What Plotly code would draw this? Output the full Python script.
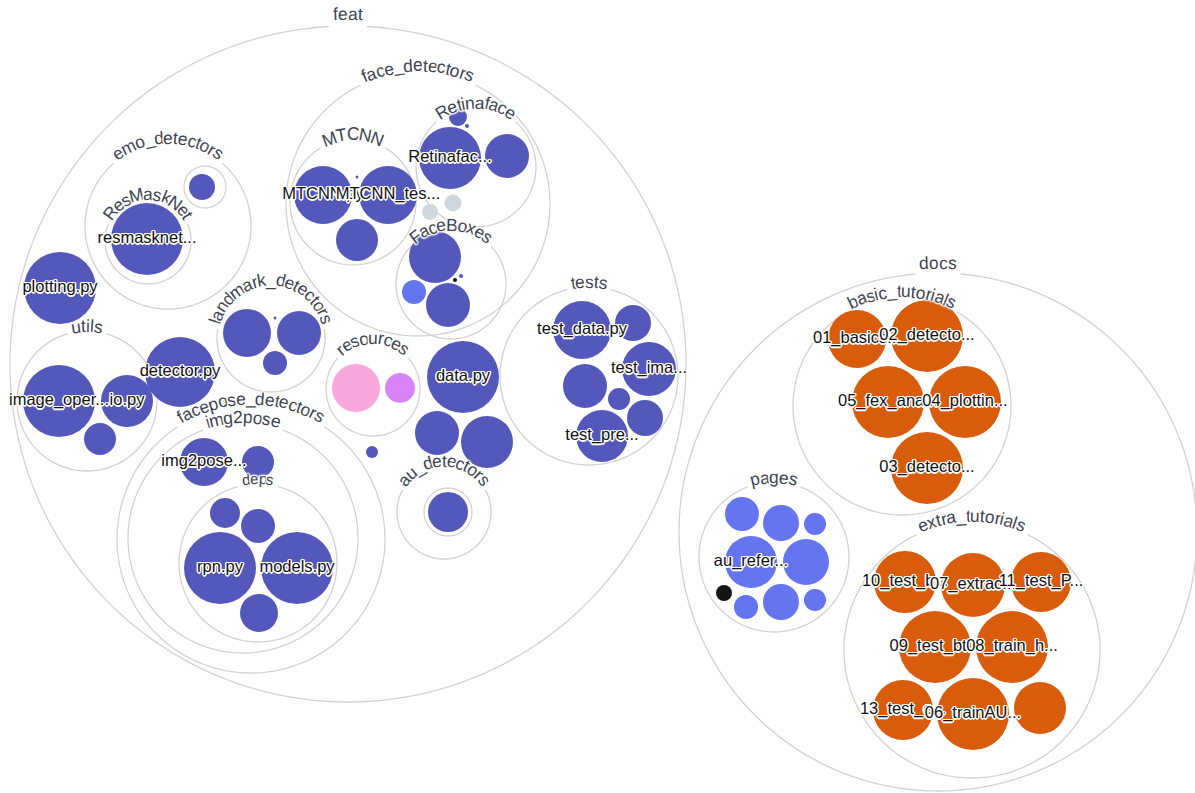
import math
import plotly.graph_objects as go

# ---------------- data ----------------
# folders: name, centre x, centre y, radius (layout units = px of the reference)
FOLDER_NAMES = ["feat", "face_detectors", "MTCNN", "Retinaface", "FaceBoxes",
                "emo_detectors", "ResMaskNet", "", "utils", "landmark_detectors",
                "resources", "facepose_detectors", "img2pose", "deps",
                "au_detectors", "", "tests",
                "docs", "basic_tutorials", "pages", "extra_tutorials"]
FOLDER_X = [348, 418, 353, 476, 451, 168, 148, 205, 87, 271, 373, 251, 243, 258,
            444, 448, 589, 938, 902, 774, 972]
FOLDER_Y = [364, 204, 202, 167, 284, 226, 241, 187, 401, 338, 389, 539, 538, 563,
            512, 512, 376, 532, 406, 557, 650]
FOLDER_R = [338, 132, 63, 60, 55, 83, 43, 21, 70, 54, 47, 134, 115, 79,
            47, 24, 89, 259, 109, 75, 128]

# files: shown label, centre x, centre y, radius, file type
FILE_LABELS = [
    "plotting.py", "detector.py", "data.py", "", "", "",
    "MTCNN.py", "MTCNN_tes...", "", "",
    "Retinafac...", "", "", "",
    "", "", "", "", "",
    "", "",
    "resmasknet...", "",
    "image_oper...", "io.py", "",
    "", "", "", "",
    "", "",
    "img2pose...", "",
    "rpn.py", "models.py", "", "", "",
    "",
    "test_data.py", "", "test_ima...", "", "", "", "test_pre...",
    "01_basics...", "02_detecto...", "05_fex_ana...", "04_plottin...", "03_detecto...",
    "", "", "", "au_refer...", "", "", "", "", "",
    "10_test_b...", "07_extrac...", "11_test_P...", "09_test_bt...", "08_train_h...",
    "13_test_e...", "06_trainAU...", "",
]
FILE_X = [60, 180, 463, 437, 487, 372,
          323, 388, 357, 357,
          450, 507, 458, 467,
          435, 448, 414, 455, 461,
          453, 430,
          147, 202,
          59, 127, 100,
          247, 299, 275, 275,
          356, 400,
          204, 258,
          220, 297, 225, 258, 259,
          448,
          582, 633, 649, 585, 619, 645, 602,
          857, 927, 888, 965, 927,
          742, 781, 815, 751, 806, 724, 746, 781, 815,
          905, 973, 1041, 935, 1012, 903, 973, 1040]
FILE_Y = [288, 372, 377, 433, 442, 452,
          195, 195, 240, 177,
          158, 156, 117, 126,
          257, 305, 292, 280, 276,
          203, 212,
          239, 187,
          401, 401, 439,
          333, 333, 363, 318,
          388, 388,
          462, 462,
          568, 568, 513, 526, 613,
          512,
          330, 323, 369, 386, 399, 418, 436,
          339, 336, 402, 402, 468,
          514, 523, 524, 562, 562, 593, 607, 602, 600,
          582, 585, 582, 647, 647, 710, 714, 708]
FILE_R = [36, 35, 36, 22, 26, 6,
          29, 29, 21, 1.5,
          31, 22, 9, 2,
          26, 22, 12, 2, 2,
          8.5, 8,
          36, 13,
          36, 26, 16,
          24, 22, 12, 1.5,
          24, 15,
          24, 16,
          36, 36, 15, 17, 19,
          20,
          29, 18, 27, 22, 11, 18, 26,
          29, 36, 36, 36, 36,
          17, 18, 11, 26, 23, 8, 12, 18, 11,
          31, 32, 30, 36, 36, 30, 36, 26]
FILE_TYPES = ["py", "py", "py", "py", "py", "py",
              "py", "py", "py", "py",
              "py", "py", "py", "py",
              "py", "py", "html", "other", "py",
              "gray", "gray",
              "py", "py",
              "py", "py", "py",
              "py", "py", "py", "py",
              "png", "svg",
              "py", "py",
              "py", "py", "py", "py", "py",
              "py",
              "py", "py", "py", "py", "py", "py", "py",
              "ipynb", "ipynb", "ipynb", "ipynb", "ipynb",
              "html", "html", "html", "html", "html", "other", "html", "html", "html",
              "ipynb", "ipynb", "ipynb", "ipynb", "ipynb", "ipynb", "ipynb", "ipynb"]

# ---------------- styles ----------------
TYPE_COLORS = {"py": "#5558bb", "html": "#6574ef", "ipynb": "#d95b0c",
               "png": "#f9a8db", "svg": "#d985f9", "gray": "#cfd7df",
               "other": "#141414"}
FONT = "Liberation Sans, Arial, Helvetica, sans-serif"
OUTLINE = "#d6d0d0"
FOLDER_TEXT = "#3a4353"
W, H = 1195, 793

# Helvetica/Arial advance widths (per 1000 em) for arc-set folder labels
ADV = {'a': 556, 'b': 556, 'c': 500, 'd': 556, 'e': 556, 'f': 278, 'g': 556,
       'h': 556, 'i': 222, 'j': 222, 'k': 500, 'l': 222, 'm': 833, 'n': 556,
       'o': 556, 'p': 556, 'q': 556, 'r': 333, 's': 500, 't': 278, 'u': 556,
       'v': 500, 'w': 722, 'x': 500, 'y': 500, 'z': 500, '_': 556, '2': 556,
       'A': 667, 'B': 667, 'C': 722, 'F': 611, 'M': 833, 'N': 722, 'R': 722,
       'T': 611}


def label_size(name):
    return 15 if name == "deps" else 17.5


def label_radius(r):
    return r + 3 + 0.027 * r


shapes = []
annotations = []
halo_big = ("0 0 2px #fff, 0 0 2px #fff, 0 0 3px #fff, 0 0 3px #fff, "
            "1px 1px 1px #fff, -1px -1px 1px #fff, 1px -1px 1px #fff, -1px 1px 1px #fff")

for name, cx, cy, r in zip(FOLDER_NAMES, FOLDER_X, FOLDER_Y, FOLDER_R):
    size = label_size(name)
    R = label_radius(r)
    adv = [ADV.get(c, 556) / 1000.0 * size for c in name]
    total = sum(adv)
    # outline of the folder, with a gap where its label sits
    gap = (total / 2.0 + 5.0) / R if name else 0.0
    n = max(60, int(r * 1.2))
    pts = []
    for k in range(n + 1):
        th = gap + (2 * math.pi - 2 * gap) * k / n
        pts.append((cx + r * math.sin(th), cy - r * math.cos(th)))
    path = "M " + " L ".join(f"{x:.2f},{y:.2f}" for x, y in pts)
    if not name:
        path += " Z"
    shapes.append(dict(type="path", xref="x", yref="y", layer="below", path=path,
                       line=dict(color=OUTLINE, width=1.3)))
    # label characters set along the arc
    s = -total / 2.0
    for ch, a in zip(name, adv):
        th = (s + a / 2.0) / R
        s += a
        annotations.append(dict(
            x=cx + R * math.sin(th), y=cy - R * math.cos(th),
            xref="x", yref="y", text=ch, showarrow=False,
            xanchor="center", yanchor="middle", textangle=math.degrees(th),
            font=dict(family=FONT, size=size, color=FOLDER_TEXT, shadow=halo_big),
            borderpad=0))

for cx, cy, r, t in zip(FILE_X, FILE_Y, FILE_R, FILE_TYPES):
    shapes.append(dict(type="circle", xref="x", yref="y", layer="below",
                       x0=cx - r, x1=cx + r, y0=cy - r, y1=cy + r,
                       line=dict(width=0), fillcolor=TYPE_COLORS[t]))

fig = go.Figure()

# file labels
lab_idx = [i for i, s in enumerate(FILE_LABELS) if s]
halo_small = ("1px 1px 0 #fff, -1px -1px 0 #fff, 1px -1px 0 #fff, -1px 1px 0 #fff, "
              "0 1.5px 0 #fff, 0 -1.5px 0 #fff, 1.5px 0 0 #fff, -1.5px 0 0 #fff")
fig.add_trace(go.Scatter(
    x=[FILE_X[i] for i in lab_idx], y=[FILE_Y[i] for i in lab_idx],
    text=[FILE_LABELS[i] for i in lab_idx], mode="text",
    textposition="middle center",
    textfont=dict(family=FONT, size=16.5, color="#111111", shadow=halo_small),
    hoverinfo="skip", showlegend=False))

fig.update_layout(
    width=W, height=H, autosize=False,
    margin=dict(l=0, r=0, t=0, b=0, pad=0),
    paper_bgcolor="white", plot_bgcolor="white",
    xaxis=dict(range=[0, W], visible=False, fixedrange=True),
    yaxis=dict(range=[H, 0], visible=False, fixedrange=True),
    shapes=shapes, annotations=annotations, showlegend=False,
)

fig.write_html("out.html", config={"displayModeBar": False},
               post_script="document.body.style.margin='0';"
                           "document.body.style.overflow='hidden';")
